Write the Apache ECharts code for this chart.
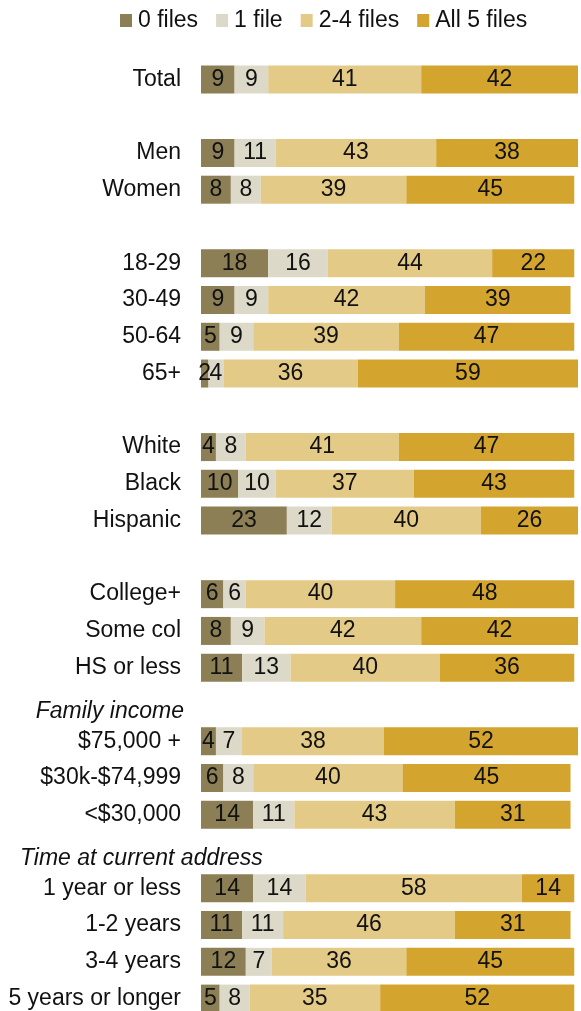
<!DOCTYPE html>
<html>
<head>
<meta charset="utf-8">
<script src="https://cdn.jsdelivr.net/npm/echarts@6/dist/echarts.min.js"></script>
<style>
  html, body { margin: 0; padding: 0; background: #fff; }
  #chart { width: 581px; height: 1011px; }
</style>
</head>
<body>
<div id="chart"></div>
<script>
// rows, top to bottom ('' = spacer row, headers drawn in italics)
const categories = [
  'Total', '',
  'Men', 'Women', '',
  '18-29', '30-49', '50-64', '65+', '',
  'White', 'Black', 'Hispanic', '',
  'College+', 'Some col', 'HS or less',
  'Family income',
  '$75,000 +', '$30k-$74,999', '<$30,000',
  'Time at current address',
  '1 year or less', '1-2 years', '3-4 years', '5 years or longer'
]
const headers = ['Family income', 'Time at current address']

const seriesNames = ['0 files', '1 file', '2-4 files', 'All 5 files']
const zeroFiles = [9, null, 9, 8, null, 18, 9, 5, 2, null, 4, 10, 23, null, 6, 8, 11, null, 4, 6, 14, null, 14, 11, 12, 5]
const oneFile   = [9, null, 11, 8, null, 16, 9, 9, 4, null, 8, 10, 12, null, 6, 9, 13, null, 7, 8, 11, null, 14, 11, 7, 8]
const someFiles = [41, null, 43, 39, null, 44, 42, 39, 36, null, 41, 37, 40, null, 40, 42, 40, null, 38, 40, 43, null, 58, 46, 36, 35]
const allFiles  = [42, null, 38, 45, null, 22, 39, 47, 59, null, 47, 43, 26, null, 48, 42, 36, null, 52, 45, 31, null, 14, 31, 45, 52]

const colors = ['#8c7f55', '#ddd9c8', '#e3ca87', '#d3a52f']
const font = 'Liberation Sans, Arial, sans-serif'

const chart = echarts.init(document.getElementById('chart'))

const series = [zeroFiles, oneFile, someFiles, allFiles].map((vals, i) => ({
  name: seriesNames[i],
  type: 'bar',
  stack: 'total',
  barWidth: 28,
  itemStyle: { color: colors[i] },
  label: {
    show: true,
    position: 'inside',
    color: '#111',
    fontSize: 23,
    fontFamily: font
  },
  data: vals
}))

chart.setOption({
  animation: false,
  color: colors,
  legend: {
    top: 4,
    left: 115,
    itemWidth: 12,
    itemHeight: 13,
    itemGap: 18,
    icon: 'rect',
    textStyle: { fontSize: 23, fontFamily: font, color: '#111', padding: [0, 0, 0, 1] },
    data: seriesNames
  },
  grid: {
    left: 201,
    top: 61,
    width: 377,
    height: 956,
    outerBoundsMode: 'none'
  },
  xAxis: {
    type: 'value',
    min: 0,
    max: 101,
    show: false
  },
  yAxis: {
    type: 'category',
    inverse: true,
    data: categories,
    axisLine: { show: false },
    axisTick: { show: false },
    axisLabel: {
      margin: 20,
      fontSize: 23,
      fontFamily: font,
      color: '#111',
      formatter: v => headers.includes(v) ? '' : v
    }
  },
  series: series
})

// italic group headers, placed via the category axis
const headerX = { 'Family income': 184, 'Time at current address': 20 }
const headerAlign = { 'Family income': 'right', 'Time at current address': 'left' }
chart.setOption({
  graphic: headers.map(h => ({
    type: 'text',
    x: headerX[h],
    y: chart.convertToPixel({ yAxisIndex: 0 }, h) + 7,
    style: {
      text: h,
      fontSize: 23,
      fontStyle: 'italic',
      fontFamily: font,
      fill: '#111',
      align: headerAlign[h],
      verticalAlign: 'middle'
    }
  }))
})
</script>
</body>
</html>
